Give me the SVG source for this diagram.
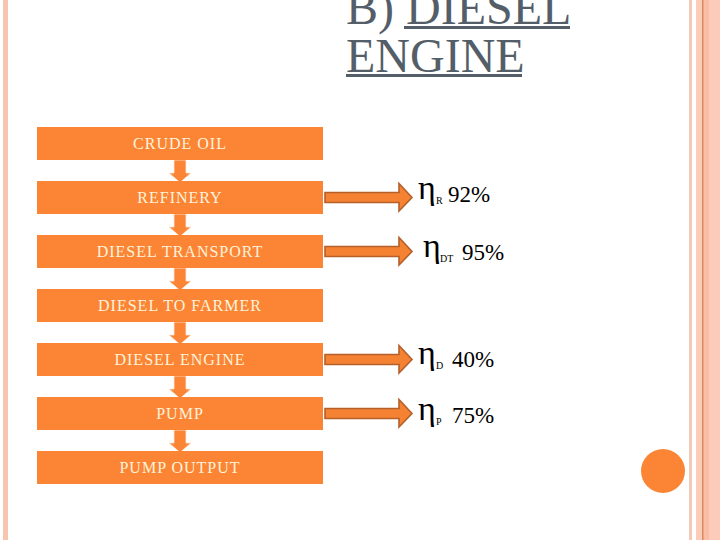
<svg xmlns="http://www.w3.org/2000/svg" width="720" height="540" viewBox="0 0 720 540">
<style>
.box{fill:#FB8535;}
.bt{font-size:16px;letter-spacing:1px;fill:#FFF3DC;text-anchor:middle;}
.da{fill:#FB8535;stroke:#FFE9D8;stroke-width:0.8;}
.ra{fill:#F58232;stroke:#B5602A;stroke-width:1.6;stroke-linejoin:miter;}
.title{font-size:48px;fill:#545E69;}
</style>
<rect width="720" height="540" fill="#FFFFFF"/>
<!-- borders -->
<rect x="3" y="0" width="5" height="540" fill="#F7C4B0"/>
<rect x="689" y="0" width="3" height="540" fill="#F5C9B8"/>
<rect x="696" y="0" width="24" height="540" fill="#FDCBBA"/>
<rect x="703" y="0" width="6" height="540" fill="#F9BEA4"/>
<rect x="702" y="0" width="1.5" height="540" fill="#D98A5E"/>
<circle cx="663" cy="471" r="22" fill="#FB8535"/>
<!-- title -->
<g id="title">
<text class="title" font-family="Liberation Serif" x="346" y="24">B) DIESEL</text>
<text class="title" font-family="Liberation Serif" x="346" y="72">ENGINE</text>
<rect x="404" y="26" width="166" height="3" fill="#545E69"/>
<rect x="346" y="74" width="176" height="3" fill="#545E69"/>
</g>
<!-- connectors -->
<g id="connectors">
<polygon class="da" points="174,160 186,160 186,173 191,173 180,182.5 169,173 174,173"/>
<polygon class="da" points="174,214 186,214 186,227 191,227 180,236.5 169,227 174,227"/>
<polygon class="da" points="174,268 186,268 186,281 191,281 180,290.5 169,281 174,281"/>
<polygon class="da" points="174,322 186,322 186,335 191,335 180,344.5 169,335 174,335"/>
<polygon class="da" points="174,376 186,376 186,389 191,389 180,398.5 169,389 174,389"/>
<polygon class="da" points="174,430 186,430 186,443 191,443 180,452.5 169,443 174,443"/>
<polygon class="ra" points="325,192.5 399,192.5 399,183.5 412,197.5 399,211 399,202.5 325,202.5"/>
<polygon class="ra" points="325,246.5 399,246.5 399,237.5 412,251.5 399,265 399,256.5 325,256.5"/>
<polygon class="ra" points="325,354.5 399,354.5 399,345.5 412,359.5 399,373 399,364.5 325,364.5"/>
<polygon class="ra" points="325,408.5 399,408.5 399,399.5 412,413.5 399,427 399,418.5 325,418.5"/>
</g>
<!-- nodes -->
<g id="crude-oil"><rect class="box" x="37" y="127" width="286" height="33"/><text class="bt" font-family="Liberation Serif" x="180" y="149">CRUDE OIL</text></g>
<g id="refinery"><rect class="box" x="37" y="181" width="286" height="33"/><text class="bt" font-family="Liberation Serif" x="180" y="203">REFINERY</text></g>
<g id="diesel-transport"><rect class="box" x="37" y="235" width="286" height="33"/><text class="bt" font-family="Liberation Serif" x="180" y="257">DIESEL TRANSPORT</text></g>
<g id="diesel-to-farmer"><rect class="box" x="37" y="289" width="286" height="33"/><text class="bt" font-family="Liberation Serif" x="180" y="311">DIESEL TO FARMER</text></g>
<g id="diesel-engine"><rect class="box" x="37" y="343" width="286" height="33"/><text class="bt" font-family="Liberation Serif" x="180" y="365">DIESEL ENGINE</text></g>
<g id="pump"><rect class="box" x="37" y="397" width="286" height="33"/><text class="bt" font-family="Liberation Serif" x="180" y="419">PUMP</text></g>
<g id="pump-output"><rect class="box" x="37" y="451" width="286" height="33"/><text class="bt" font-family="Liberation Serif" x="180" y="473">PUMP OUTPUT</text></g>
<!-- efficiency labels -->
<g id="eff-r">
<text font-family="Liberation Serif" x="418" y="199" font-size="34">η</text><text font-family="Liberation Serif" x="436" y="204" font-size="10">R</text><text font-family="Liberation Serif" x="448" y="202" font-size="23">92%</text>
</g>
<g id="eff-dt">
<text font-family="Liberation Serif" x="423" y="257" font-size="34">η</text><text font-family="Liberation Serif" x="440" y="262" font-size="10">DT</text><text font-family="Liberation Serif" x="462" y="260" font-size="23">95%</text>
</g>
<g id="eff-d">
<text font-family="Liberation Serif" x="418" y="364" font-size="34">η</text><text font-family="Liberation Serif" x="436" y="369" font-size="10">D</text><text font-family="Liberation Serif" x="452" y="367" font-size="23">40%</text>
</g>
<g id="eff-p">
<text font-family="Liberation Serif" x="418" y="420" font-size="34">η</text><text font-family="Liberation Serif" x="436" y="425" font-size="10">P</text><text font-family="Liberation Serif" x="452" y="423" font-size="23">75%</text>
</g>
</svg>
